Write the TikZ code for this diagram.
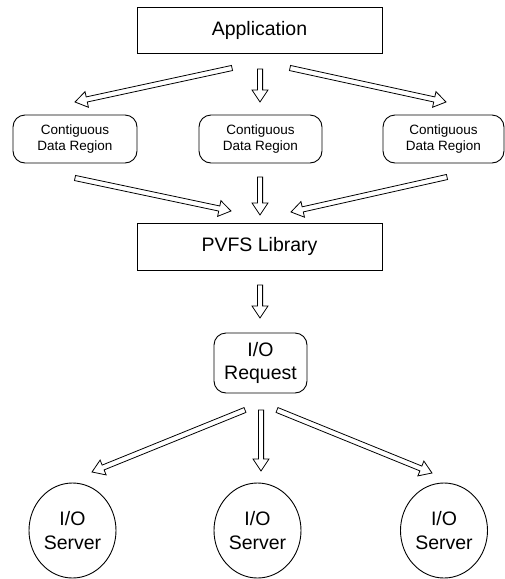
\documentclass[tikz,border=0pt]{standalone}
\usepackage{fontspec}
\setmainfont{Liberation Sans}
\usetikzlibrary{calc,shapes.geometric}

% hollow block arrow from #1 (tail) to #2 (tip)
\newcommand{\hollowarrow}[2]{%
  \draw[hollow] let \p1=(#1), \p2=(#2),
    \n1={atan2(\y2-\y1,\x2-\x1)},
    \n2={veclen(\x2-\x1,\y2-\y1)} in
    {[shift={(\p1)}, rotate=\n1]
      (0pt,-2.6pt) -- ({\n2-12pt},-2.6pt) -- ({\n2-12pt},-8pt) -- (\n2,0pt)
      -- ({\n2-12pt},8pt) -- ({\n2-12pt},2.6pt) -- (0pt,2.6pt) -- cycle};}

\begin{document}
\begin{tikzpicture}[x=1pt,y=-1pt,
  line width=0.9pt,
  bigtext/.style={font=\fontsize{19.5}{23.5}\selectfont, align=center},
  smalltext/.style={font=\fontsize{13.5}{16.5}\selectfont, align=center},
  layerbox/.style={draw, rectangle, inner sep=0pt, minimum width=245pt, minimum height=46pt, bigtext},
  regionbox/.style={draw, rectangle, rounded corners=12pt, inner sep=0pt, minimum height=48pt, smalltext},
  reqbox/.style={draw, rectangle, rounded corners=12pt, inner sep=0pt, minimum width=93pt, minimum height=60pt, bigtext},
  server/.style={draw, ellipse, inner sep=0pt, minimum width=87pt, minimum height=95pt, bigtext},
  hollow/.style={draw=black, fill=white, line width=0.8pt, line join=miter}]

\useasboundingbox (0,0) rectangle (505,579);

% nodes
\node[layerbox] (app) at (259.5,30) {Application};
\node[regionbox, minimum width=124pt] (cdr1) at (75,139) {Contiguous\\Data Region};
\node[regionbox, minimum width=123pt] (cdr2) at (260.5,139) {Contiguous\\Data Region};
\node[regionbox, minimum width=121pt] (cdr3) at (443.5,139) {Contiguous\\Data Region};
\node[layerbox, minimum height=47pt] (lib) at (259.5,246.5) {PVFS Library};
\node[reqbox] (req) at (260.5,363) {I/O\\Request};
\node[server] (srv1) at (72.5,530.5) {I/O\\Server};
\node[server] (srv2) at (257.5,530.5) {I/O\\Server};
\node[server] (srv3) at (444,530.5) {I/O\\Server};

% arrow end points
\coordinate (a1t) at (232,68);  \coordinate (a1h) at (75,102);
\coordinate (a2t) at (260,69);  \coordinate (a2h) at (260,102);
\coordinate (a3t) at (290,68);  \coordinate (a3h) at (446,102);
\coordinate (b1t) at (75,178);  \coordinate (b1h) at (231,211);
\coordinate (b2t) at (260,177); \coordinate (b2h) at (260,215);
\coordinate (b3t) at (447,177); \coordinate (b3h) at (291,212);
\coordinate (ct)  at (260,285); \coordinate (ch)  at (260,318);
\coordinate (d1t) at (245,410); \coordinate (d1h) at (92,472);
\coordinate (d2t) at (261,410); \coordinate (d2h) at (261,471);
\coordinate (d3t) at (277,410); \coordinate (d3h) at (432,473);

% connectors
\hollowarrow{a1t}{a1h}
\hollowarrow{a2t}{a2h}
\hollowarrow{a3t}{a3h}
\hollowarrow{b1t}{b1h}
\hollowarrow{b2t}{b2h}
\hollowarrow{b3t}{b3h}
\hollowarrow{ct}{ch}
\hollowarrow{d1t}{d1h}
\hollowarrow{d2t}{d2h}
\hollowarrow{d3t}{d3h}
\end{tikzpicture}
\end{document}
